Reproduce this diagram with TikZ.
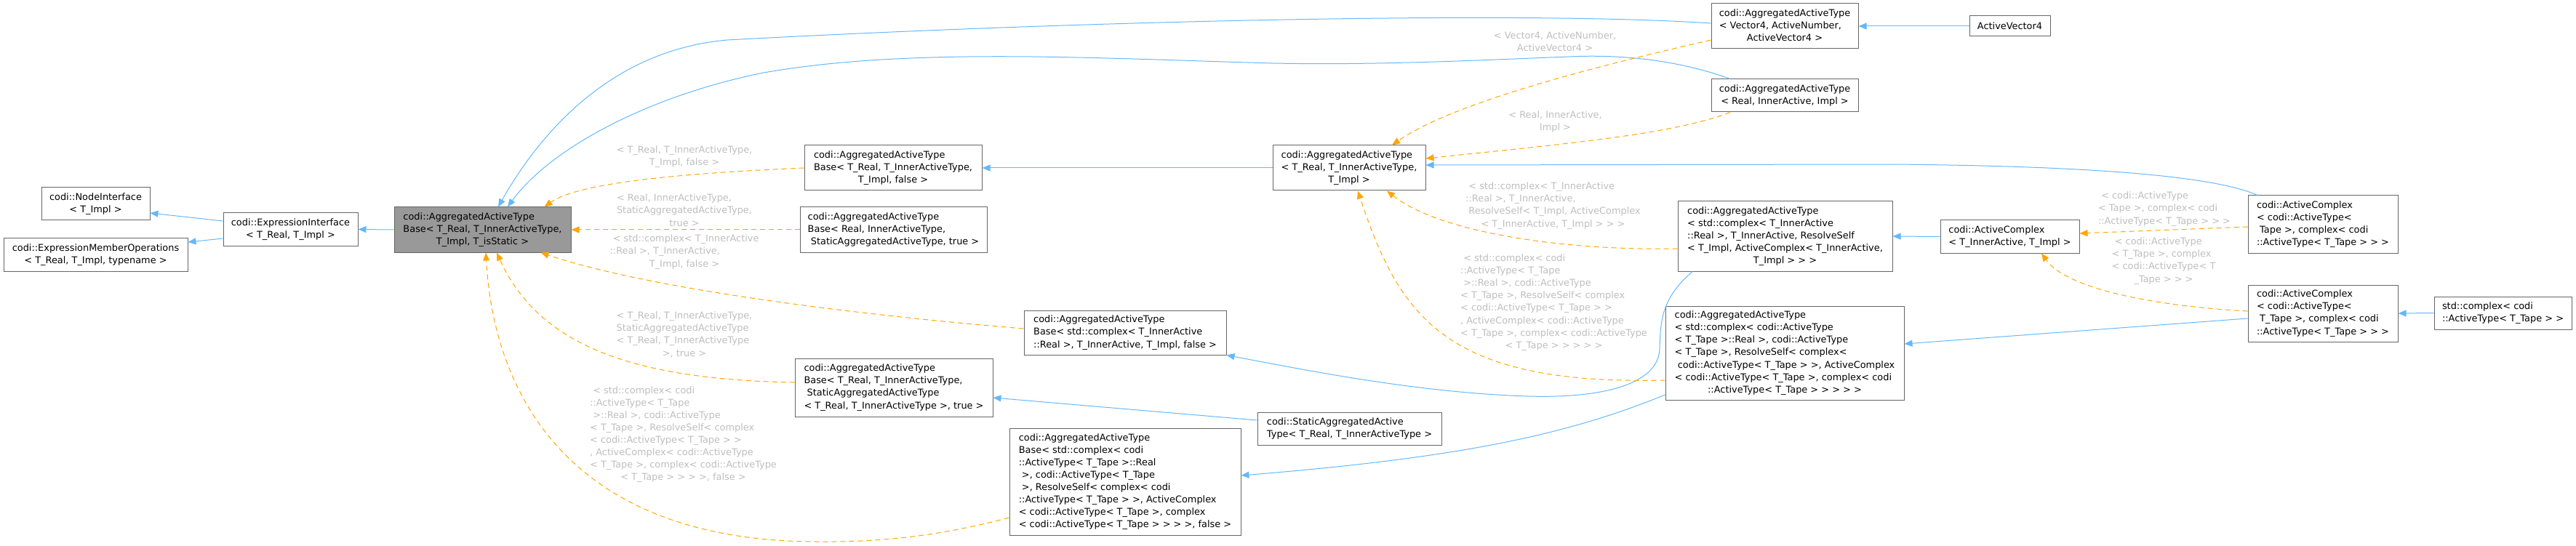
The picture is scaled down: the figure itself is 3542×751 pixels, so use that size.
\documentclass[tikz,border=0pt]{standalone}
\usepackage{fontspec}
\setmainfont{DejaVu Sans}
\usetikzlibrary{arrows.meta}
\definecolor{boxgray}{HTML}{666666}
\definecolor{focusgray}{HTML}{999999}
\definecolor{inhblue}{HTML}{63B8FF}
\definecolor{tmplorange}{HTML}{FFA500}
\definecolor{labelgray}{HTML}{BEBEBE}
\newcommand{\dtxt}[1]{\begin{tabular}{@{}l@{}}#1\end{tabular}}
\newcommand{\dlast}[1]{\multicolumn{1}{@{}c@{}}{#1}}
\tikzset{
  cls/.style={draw=boxgray, fill=white, line width=1pt, inner sep=0pt,
    font=\fontsize{12.9}{17.1}\selectfont},
  focuscls/.style={cls, fill=focusgray},
  lbl/.style={text=labelgray, inner sep=0pt, font=\fontsize{12.9}{17.1}\selectfont},
  inh/.style={draw=inhblue, line width=1pt, -{Triangle[length=11pt,width=9pt]}},
  tmpl/.style={draw=tmplorange, line width=1pt, dash pattern=on 7pt off 5pt,
    -{Triangle[length=11pt,width=9pt]}}
}
\begin{document}
\begin{tikzpicture}[x=1pt,y=-1pt]
  \useasboundingbox (0,0) rectangle (3542,751);
  \node[focuscls, minimum width=243pt, minimum height=62pt] (focus) at (663.5,316)
    {\dtxt{codi::AggregatedActiveType\\Base< T\_Real, T\_InnerActiveType,\\\dlast{T\_Impl, T\_isStatic >}}};
  \node[cls, minimum width=149pt, minimum height=45pt] (nodeif) at (131.5,280.5)
    {\dtxt{codi::NodeInterface\\\dlast{< T\_Impl >}}};
  \node[cls, minimum width=253pt, minimum height=45pt] (exprmem) at (131.5,350.5)
    {\dtxt{codi::ExpressionMemberOperations\\\dlast{< T\_Real, T\_Impl, typename >}}};
  \node[cls, minimum width=185pt, minimum height=45pt] (exprif) at (399.5,315.5)
    {\dtxt{codi::ExpressionInterface\\\dlast{< T\_Real, T\_Impl >}}};
  \node[cls, minimum width=244pt, minimum height=62pt] (baseF) at (1228,231)
    {\dtxt{codi::AggregatedActiveType\\Base< T\_Real, T\_InnerActiveType,\\\dlast{T\_Impl, false >}}};
  \node[cls, minimum width=257pt, minimum height=62pt] (baseS) at (1228.5,316)
    {\dtxt{codi::AggregatedActiveType\\Base< Real, InnerActiveType,\\\dlast{\ StaticAggregatedActiveType, true >}}};
  \node[cls, minimum width=278pt, minimum height=61pt] (baseC) at (1547,457.5)
    {\dtxt{codi::AggregatedActiveType\\Base< std::complex< T\_InnerActive\\::Real >, T\_InnerActive, T\_Impl, false >}};
  \node[cls, minimum width=272pt, minimum height=80pt] (baseSA) at (1229,533)
    {\dtxt{codi::AggregatedActiveType\\Base< T\_Real, T\_InnerActiveType,\\\ StaticAggregatedActiveType\\< T\_Real, T\_InnerActiveType >, true >}};
  \node[cls, minimum width=318pt, minimum height=147pt] (baseAT) at (1547,662.5)
    {\dtxt{codi::AggregatedActiveType\\Base< std::complex< codi\\::ActiveType< T\_Tape >::Real\\\ >, codi::ActiveType< T\_Tape\\\ >, ResolveSelf< complex< codi\\::ActiveType< T\_Tape > >, ActiveComplex\\< codi::ActiveType< T\_Tape >, complex\\< codi::ActiveType< T\_Tape > > > >, false >}};
  \node[cls, minimum width=253pt, minimum height=45pt] (staticAAT) at (1855.5,589.5)
    {\dtxt{codi::StaticAggregatedActive\\Type< T\_Real, T\_InnerActiveType >}};
  \node[cls, minimum width=210pt, minimum height=62pt] (aatT) at (1855,231)
    {\dtxt{codi::AggregatedActiveType\\< T\_Real, T\_InnerActiveType,\\\dlast{T\_Impl >}}};
  \node[cls, minimum width=202pt, minimum height=62pt] (aatV4) at (2454,36)
    {\dtxt{codi::AggregatedActiveType\\< Vector4, ActiveNumber,\\\dlast{ActiveVector4 >}}};
  \node[cls, minimum width=202pt, minimum height=45pt] (aatR) at (2454,131.5)
    {\dtxt{codi::AggregatedActiveType\\\dlast{< Real, InnerActive, Impl >}}};
  \node[cls, minimum width=111pt, minimum height=28pt] (activeV4) at (2763.5,36)
    {ActiveVector4};
  \node[cls, minimum width=295pt, minimum height=96pt] (aatC) at (2454.5,325)
    {\dtxt{codi::AggregatedActiveType\\< std::complex< T\_InnerActive\\::Real >, T\_InnerActive, ResolveSelf\\< T\_Impl, ActiveComplex< T\_InnerActive,\\\dlast{T\_Impl > > >}}};
  \node[cls, minimum width=328pt, minimum height=129pt] (aatAT) at (2454,485.5)
    {\dtxt{codi::AggregatedActiveType\\< std::complex< codi::ActiveType\\< T\_Tape >::Real >, codi::ActiveType\\< T\_Tape >, ResolveSelf< complex<\\\ codi::ActiveType< T\_Tape > >, ActiveComplex\\< codi::ActiveType< T\_Tape >, complex< codi\\\dlast{::ActiveType< T\_Tape > > > > >}}};
  \node[cls, minimum width=191pt, minimum height=45pt] (acTI) at (2763.5,325.5)
    {\dtxt{codi::ActiveComplex\\< T\_InnerActive, T\_Impl >}};
  \node[cls, minimum width=206pt, minimum height=79pt] (acA) at (3194,308.5)
    {\dtxt{codi::ActiveComplex\\< codi::ActiveType<\\\ Tape >, complex< codi\\::ActiveType< T\_Tape > > >}};
  \node[cls, minimum width=206pt, minimum height=78pt] (acB) at (3194,431)
    {\dtxt{codi::ActiveComplex\\< codi::ActiveType<\\\ T\_Tape >, complex< codi\\::ActiveType< T\_Tape > > >}};
  \node[cls, minimum width=189pt, minimum height=45pt] (stdC) at (3441.5,430.5)
    {\dtxt{std::complex< codi\\::ActiveType< T\_Tape > >}};

  \node[lbl] (lblF) at (941,215.5)
    {\dtxt{< T\_Real, T\_InnerActiveType,\\\dlast{T\_Impl, false >}}};
  \node[lbl] (lblS) at (941,290.5)
    {\dtxt{< Real, InnerActiveType,\\StaticAggregatedActiveType,\\\dlast{true >}}};
  \node[lbl] (lblC) at (941,346.5)
    {\dtxt{\ < std::complex< T\_InnerActive\\::Real >, T\_InnerActive,\\\dlast{T\_Impl, false >}}};
  \node[lbl] (lblSA) at (941,461)
    {\dtxt{< T\_Real, T\_InnerActiveType,\\StaticAggregatedActiveType\\< T\_Real, T\_InnerActiveType\\\dlast{>, true >}}};
  \node[lbl] (lblAT) at (939.5,597.5)
    {\dtxt{\ < std::complex< codi\\::ActiveType< T\_Tape\\\ >::Real >, codi::ActiveType\\< T\_Tape >, ResolveSelf< complex\\< codi::ActiveType< T\_Tape > >\\, ActiveComplex< codi::ActiveType\\< T\_Tape >, complex< codi::ActiveType\\\dlast{< T\_Tape > > > >, false >}}};
  \node[lbl] (lblV4) at (2138,58.5)
    {\dtxt{< Vector4, ActiveNumber,\\\dlast{ActiveVector4 >}}};
  \node[lbl] (lblR) at (2138.5,167.5)
    {\dtxt{< Real, InnerActive,\\\dlast{Impl >}}};
  \node[lbl] (lblCC) at (2135.5,283)
    {\dtxt{\ < std::complex< T\_InnerActive\\::Real >, T\_InnerActive,\\\ ResolveSelf< T\_Impl, ActiveComplex\\\dlast{< T\_InnerActive, T\_Impl > > >}}};
  \node[lbl] (lblAAT) at (2136.5,416)
    {\dtxt{\ < std::complex< codi\\::ActiveType< T\_Tape\\\ >::Real >, codi::ActiveType\\< T\_Tape >, ResolveSelf< complex\\< codi::ActiveType< T\_Tape > >\\, ActiveComplex< codi::ActiveType\\< T\_Tape >, complex< codi::ActiveType\\\dlast{< T\_Tape > > > > >}}};
  \node[lbl] (lblA) at (2976,287.5)
    {\dtxt{\ < codi::ActiveType\\< Tape >, complex< codi\\::ActiveType< T\_Tape > > >}};
  \node[lbl] (lblB) at (2975,359)
    {\dtxt{\ < codi::ActiveType\\< T\_Tape >, complex\\< codi::ActiveType< T\\\dlast{\_Tape > > >}}};

  \draw[inh] ([yshift=11.5pt]exprif.west) -- ([yshift=-12.5pt]nodeif.east);
  \draw[inh] ([yshift=-12.5pt]exprif.west) -- ([yshift=17.5pt]exprmem.east);
  \draw[inh] (focus.west) -- (exprif.east);
  \draw[inh] ([yshift=4pt]aatV4.west) .. controls (2100,15) and (1500,28) .. (1000,55)
    .. controls (850,68) and (750,170) .. ([xshift=21.5pt]focus.north);
  \draw[inh] ([xshift=-75pt]aatR.north) .. controls (2300,80) and (2220,75) .. (2157,78)
    .. controls (2050,82) and (1900,90) .. (1750,87)
    .. controls (1500,80) and (1250,65) .. (1050,100)
    .. controls (900,130) and (760,200) .. ([xshift=34.5pt]focus.north);
  \draw[inh] (aatT.west) -- (baseF.east);
  \draw[inh] ([xshift=-90pt]acA.north) .. controls (3040,240) and (2850,228) .. (2600,226)
    -- ([yshift=4pt]aatT.east);
  \draw[inh] (acTI.west) -- (aatC.east);
  \draw[inh] ([yshift=-7pt]acB.west) -- ([yshift=12.5pt]aatAT.east);
  \draw[inh] (stdC.west) -- (acB.east);
  \draw[inh] (activeV4.west) -- (aatV4.east);
  \draw[inh] ([yshift=11.5pt]staticAAT.west) -- ([yshift=-14pt]baseSA.east);
  \draw[inh] ([xshift=-127.5pt]aatC.south) .. controls (2285,410) and (2283,440) .. (2282,480)
    .. controls (2280,530) and (2200,548) .. (2100,545)
    .. controls (1950,540) and (1800,510) .. (baseC.south east);
  \draw[inh] ([yshift=-57.5pt]aatAT.west) .. controls (2150,600) and (2000,630) .. ([yshift=8.5pt]baseAT.east);

  \draw[tmpl] (baseF.west) .. controls (900,240) and (790,255) .. ([xshift=-37pt]focus.north east);
  \draw[tmpl] (baseS.west) -- (focus.east);
  \draw[tmpl] ([yshift=5.5pt]baseC.west) .. controls (1200,435) and (900,400) .. ([xshift=-42pt]focus.south east);
  \draw[tmpl] ([yshift=7pt]baseSA.west) .. controls (880,522) and (743,480) .. ([xshift=19.5pt]focus.south);
  \draw[tmpl] ([yshift=-49.5pt]baseAT.west) .. controls (1300,735) and (1220,746) .. (1124,745)
    .. controls (800,745) and (680,560) .. ([xshift=4.5pt]focus.south);
  \draw[tmpl] ([yshift=-19pt]aatV4.west) .. controls (2200,90) and (2000,140) .. ([xshift=59pt]aatT.north);
  \draw[tmpl] ([xshift=-75pt]aatR.south) .. controls (2300,185) and (2150,198) .. ([yshift=13pt]aatT.east);
  \draw[tmpl] ([yshift=-17pt]aatC.west) .. controls (2150,345) and (1980,320) .. ([xshift=52pt]aatT.south);
  \draw[tmpl] ([yshift=-37.5pt]aatAT.west) .. controls (1990,530) and (1925,438) .. ([xshift=12pt]aatT.south);
  \draw[tmpl] ([yshift=-3.5pt]acA.west) -- ([yshift=4.5pt]acTI.east);
  \draw[tmpl] ([yshift=3pt]acB.west) .. controls (2950,420) and (2840,395) .. ([xshift=43.5pt]acTI.south);
\end{tikzpicture}
\end{document}
